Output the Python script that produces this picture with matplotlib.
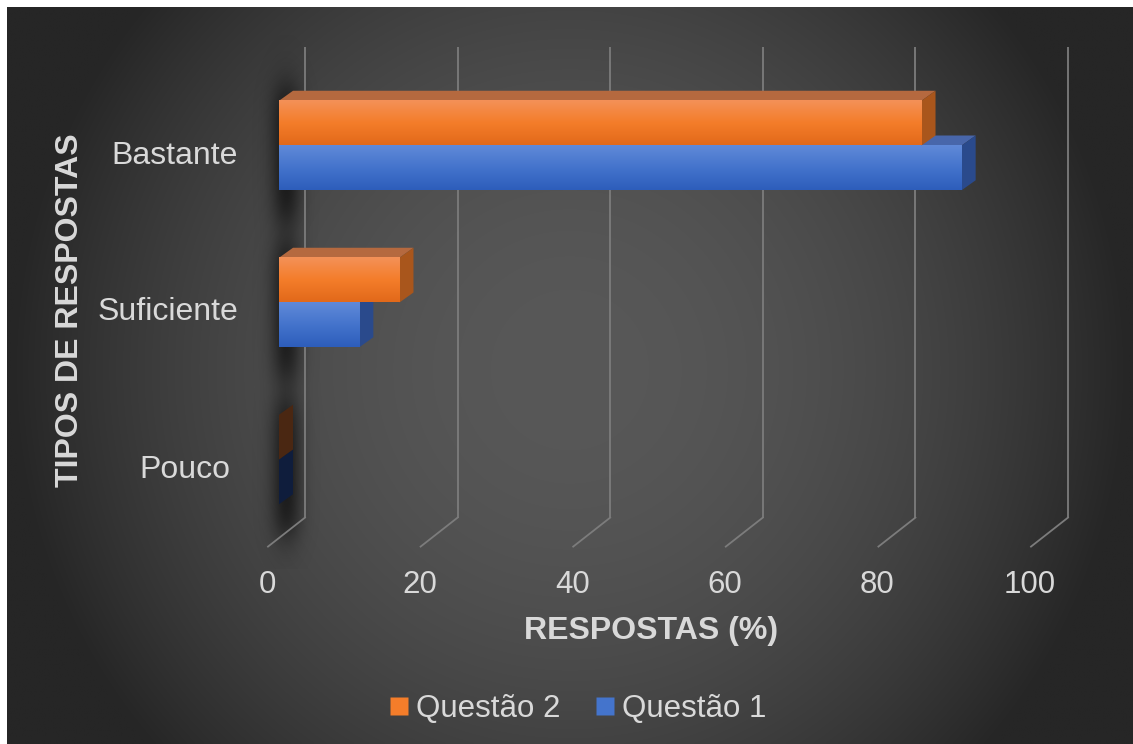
import numpy as np
import matplotlib
matplotlib.use("Agg")
import matplotlib.pyplot as plt
from matplotlib.patches import Polygon
from matplotlib.lines import Line2D
from matplotlib.transforms import ScaledTranslation

# ---------------- data ----------------
categories = ["Pouco", "Suficiente", "Bastante"]
questao1 = [0.0, 10.53, 89.47]
questao2 = [0.0, 15.79, 84.21]
x_ticks = [0, 20, 40, 60, 80, 100]
x_tick_labels = ["0", "20", "40", "60", "80", "100"]
x_title = "RESPOSTAS (%)"
y_title = "TIPOS DE RESPOSTAS"
legend_labels = ["Questão 2", "Questão 1"]

# ---------------- style ----------------
W, H, DPI = 1133, 744, 100
FONT = "Liberation Sans"
TXT = "#d9d9d9"
GRID = "#7c7c7c"

PX_X = 763 / 100.0   # pixels per x unit
PX_Y = 157.0         # pixels per category
BACK_DX, BACK_DY = 26 / PX_X, 20.4 / PX_Y
FRONT_DX, FRONT_DY = -11 / PX_X, -8.6 / PX_Y
BAR_DX, BAR_DY = 14 / PX_X, 10 / PX_Y
BAR_H = 0.285

orange = dict(top="#f39158", bottom="#e2691a", mid="#f47d2a",
              roof="#b5693f", side="#a9561c", dark_side="#4a2712")
blue = dict(top="#6089d8", bottom="#2d5dbb", mid="#4474cc",
            roof="#4866aa", side="#2a4a8c", dark_side="#0f1d3c")

fig = plt.figure(figsize=(W / DPI, H / DPI), dpi=DPI, facecolor="white")

# ---------------- background ----------------
bg = fig.add_axes([7 / W, 0, (W - 7) / W, (H - 7) / H])
bg.set_axis_off()
xs = np.linspace(7, W, 400)
ys = np.linspace(7, H, 300)
XX, YY = np.meshgrid(xs, ys)
f = np.clip(1 - ((XX - 570) / 560) ** 2 - ((YY - 370) / 570) ** 2, 0, 1)
v = (38 + 50 * f) / 255.0
img = np.dstack([v, v, v])
bg.imshow(img, extent=[7, W, H, 7], aspect="auto", interpolation="bilinear")
bg.set_xlim(7, W)
bg.set_ylim(H, 7)

# ---------------- main axes (bar plane) ----------------
ax = fig.add_axes([279 / W, (H - 538) / H, 763 / W, 471 / H])
ax.set_axis_off()
ax.patch.set_alpha(0)
ypos = np.arange(len(categories))

# soft shadow behind bars
sx = np.linspace(-5, 8, 260)
sy = np.linspace(-0.7, 2.7, 440)
SX, SY = np.meshgrid(sx, sy)
gx = np.exp(-0.5 * ((SX - 0.9) / 1.4) ** 2)
gy = np.zeros_like(SY)
for c in ypos:
    lo, hi = c - BAR_H - 0.20, c + BAR_H + 0.08
    gy += 1 / (1 + np.exp(-(SY - lo) / 0.07)) * 1 / (1 + np.exp((SY - hi) / 0.07))
alpha = 0.62 * gx * np.clip(gy, 0, 1)
shadow = np.zeros(SX.shape + (4,))
shadow[..., 3] = alpha
ax.imshow(shadow, extent=[-5, 8, -0.7, 2.7], origin="lower", aspect="auto",
          interpolation="bilinear", zorder=1, clip_on=False)

# back wall gridlines + floor diagonals
for t in x_ticks:
    ax.plot([t + BACK_DX, t + BACK_DX], [-0.5 + BACK_DY, 2.5 + BACK_DY],
            color=GRID, lw=1.3, zorder=2, clip_on=False, solid_capstyle="butt")
    ax.plot([t + BACK_DX, t + FRONT_DX], [-0.5 + BACK_DY, -0.5 + FRONT_DY],
            color=GRID, lw=1.3, zorder=2, clip_on=False)


def grad_img(col):
    c1 = np.array(matplotlib.colors.to_rgb(col["top"]))
    c2 = np.array(matplotlib.colors.to_rgb(col["mid"]))
    c3 = np.array(matplotlib.colors.to_rgb(col["bottom"]))
    n = 64
    t = np.linspace(0, 1, n)[:, None]
    top_half = c1 * (1 - t[: n // 2] * 2) + c2 * (t[: n // 2] * 2)
    bot_half = c2 * (1 - (t[n // 2:] - 0.5) * 2) + c3 * ((t[n // 2:] - 0.5) * 2)
    arr = np.vstack([top_half, bot_half])  # row 0 = top
    return arr[:, None, :]


def draw_bar(val, y0, col, z):
    y1 = y0 + BAR_H
    ax.add_patch(Polygon([(0, y1), (val, y1), (val + BAR_DX, y1 + BAR_DY), (BAR_DX, y1 + BAR_DY)],
                         closed=True, facecolor=col["roof"], edgecolor="none", zorder=z, clip_on=False))
    side_col = col["dark_side"] if val == 0 else col["side"]
    ax.add_patch(Polygon([(val, y0), (val, y1), (val + BAR_DX, y1 + BAR_DY), (val + BAR_DX, y0 + BAR_DY)],
                         closed=True, facecolor=side_col, edgecolor="none", zorder=z, clip_on=False))
    if val > 0:
        ax.imshow(grad_img(col), extent=[0, val, y0, y1], origin="upper", aspect="auto",
                  interpolation="bilinear", zorder=z + 0.1)


for i, c in enumerate(ypos):
    draw_bar(questao1[i], c - BAR_H, blue, 3 + i * 2)
    draw_bar(questao2[i], c, orange, 4 + i * 2)

ax.set_xlim(0, 100)
ax.set_ylim(-0.5, 2.5)

# category labels
nudge = {"Pouco": -8}
for c, lab in zip(ypos, categories):
    tr = ax.transData + ScaledTranslation((-41 + nudge.get(lab, 0)) / DPI, -18 / DPI, fig.dpi_scale_trans)
    ax.text(0, c, lab, transform=tr, ha="right", va="baseline", fontsize=23,
            family=FONT, color=TXT, clip_on=False)

# x tick labels on the front floor edge
for t, lab in zip(x_ticks, x_tick_labels):
    tr = ax.transData + ScaledTranslation(-1 / DPI, -46 / DPI, fig.dpi_scale_trans)
    ax.text(t + FRONT_DX, -0.5 + FRONT_DY, lab, transform=tr, ha="center", va="baseline",
            fontsize=22.5, family=FONT, color=TXT, clip_on=False)

# axis titles
fig.text(651 / W, 1 - 639 / H, x_title, ha="center", va="baseline", fontsize=23,
         family=FONT, weight="bold", color=TXT)
fig.text(70 / W, 1 - 310 / H, y_title, ha="center", va="center", rotation=90,
         fontsize=23, family=FONT, weight="bold", color=TXT)

# legend
handles = [Line2D([], [], marker="s", linestyle="none", markersize=12.5,
                  markerfacecolor=orange["mid"], markeredgecolor="none"),
           Line2D([], [], marker="s", linestyle="none", markersize=12.5,
                  markerfacecolor=blue["mid"], markeredgecolor="none")]
leg = fig.legend(handles, legend_labels, loc="center", bbox_to_anchor=(578 / W, 1 - 709 / H),
                 ncol=2, frameon=False, handlelength=0.6, handletextpad=0.25,
                 columnspacing=1.1, prop={"family": FONT, "size": 22.5})
for t in leg.get_texts():
    t.set_color(TXT)

fig.savefig("out.png", dpi=DPI, facecolor="white")
